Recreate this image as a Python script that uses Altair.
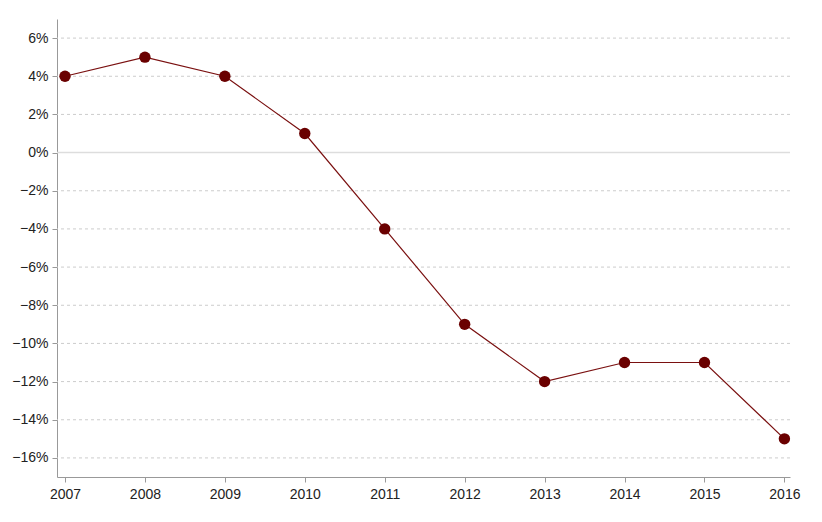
import altair as alt
import pandas as pd

years = [2007, 2008, 2009, 2010, 2011, 2012, 2013, 2014, 2015, 2016]
values = [4, 5, 4, 1, -4, -9, -12, -11, -11, -15]
grid_vals = [-16, -14, -12, -10, -8, -6, -4, -2, 2, 4, 6]

df = pd.DataFrame({"year": years, "value": [v / 100 for v in values]})
gdf = pd.DataFrame({"value": [g / 100 for g in grid_vals]})
zdf = pd.DataFrame({"value": [0.0]})

FONT = "Liberation Sans"

x = alt.X("year:Q", scale=alt.Scale(domain=[2006.9, 2016.07], nice=False, zero=False),
          axis=alt.Axis(values=years, format="d", title=None, grid=False,
                        labelFontSize=14, labelColor="#222", labelFont=FONT,
                        domainColor="#999", tickColor="#999", tickSize=5, labelPadding=5,
                        labelFlush=False))
y = alt.Y("value:Q", scale=alt.Scale(domain=[-0.17, 0.07], nice=False),
          axis=alt.Axis(values=[v / 100 for v in range(-16, 7, 2)], format=".0%", title=None,
                        grid=False, labelFontSize=14, labelColor="#222", labelFont=FONT,
                        domainColor="#999", tickColor="#999", tickSize=5, labelPadding=4))

grid = alt.Chart(gdf).mark_rule(color="#ccc", strokeDash=[3, 3], strokeWidth=1).encode(y=y)
zero = alt.Chart(zdf).mark_rule(color="#ddd", strokeWidth=1.5).encode(y=y)

line = alt.Chart(df).mark_line(color="#7a1010", strokeWidth=1.2).encode(x=x, y=y)
pts = alt.Chart(df).mark_point(filled=True, color="#6a0000", size=130, opacity=1).encode(x=x, y=y)

chart = alt.layer(grid, zero, line, pts).properties(
    width=733, height=458,
    autosize=alt.AutoSizeParams(type="none"),
    padding={"left": 49, "top": 11, "right": 16, "bottom": 37},
    background="white",
).configure_view(stroke="transparent", strokeWidth=0)

chart.save("out.html", embed_options={"renderer": "svg", "actions": False})
